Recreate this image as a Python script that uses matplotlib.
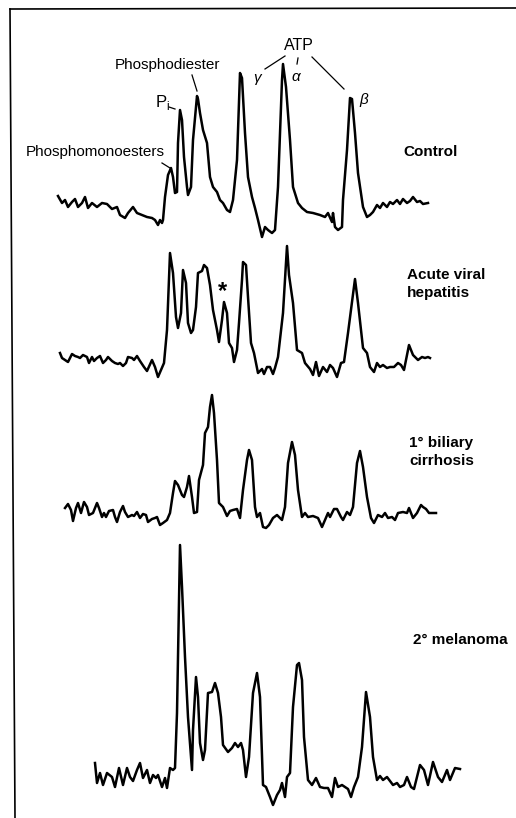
import matplotlib
matplotlib.use("Agg")
import matplotlib.pyplot as plt

plt.rcParams['font.family'] = ['Liberation Sans', 'DejaVu Sans']

# traces (x = shift position, y = trace height, page units)
control_x = [58, 62, 65, 68, 72, 75, 78, 82, 85, 88, 92, 97, 102, 107, 112, 117, 120, 125, 128, 133,
             137, 142, 147, 152, 155, 158, 160, 162, 163, 165, 168, 171, 173, 175, 177, 178, 180, 182, 184, 187,
             188, 191, 193, 197, 198, 200, 203, 207, 210, 213, 217, 220, 223, 227, 230, 233, 237, 240, 242, 245,
             248, 252, 255, 258, 262, 265, 268, 272, 275, 278, 282, 283, 286, 290, 293, 298, 302, 307, 313, 320,
             325, 328, 332, 333, 335, 338, 342, 343, 347, 350, 352, 355, 358, 363, 367, 370, 373, 377, 380, 383,
             387, 390, 393, 397, 400, 403, 407, 410, 413, 417, 420, 423, 428]
control_y = [196, 203, 200, 207, 202, 199, 207, 203, 197, 208, 203, 207, 203, 204, 209, 207, 215, 218, 213, 207,
             213, 215, 217, 218, 220, 225, 220, 223, 220, 197, 175, 168, 177, 193, 192, 143, 110, 120, 157, 187,
             195, 187, 140, 96, 99, 113, 130, 143, 177, 187, 192, 200, 203, 210, 212, 200, 160, 73, 78, 133,
             177, 197, 208, 220, 237, 227, 230, 233, 230, 187, 80, 64, 87, 140, 187, 203, 208, 212, 213, 215,
             217, 213, 222, 213, 227, 230, 227, 200, 150, 98, 99, 133, 173, 207, 217, 215, 212, 205, 208, 203,
             207, 202, 204, 200, 204, 199, 203, 201, 197, 202, 201, 204, 203]

hepatitis_x = [60, 62, 65, 68, 72, 75, 78, 80, 83, 87, 89, 92, 94, 97, 100, 103, 106, 108, 112, 115,
               118, 120, 123, 126, 128, 132, 134, 137, 140, 144, 147, 152, 155, 158, 161, 164, 167, 170, 173, 176,
               178, 181, 183, 186, 188, 191, 193, 196, 198, 202, 204, 207, 210, 213, 217, 219, 222, 224, 227, 229,
               232, 234, 237, 239, 242, 243, 246, 248, 251, 254, 258, 262, 264, 267, 270, 273, 275, 278, 283, 287,
               289, 293, 297, 302, 305, 310, 313, 316, 319, 323, 327, 330, 333, 337, 341, 344, 348, 352, 355, 358,
               363, 367, 370, 374, 377, 380, 383, 387, 390, 394, 398, 401, 404, 407, 409, 413, 416, 418, 422, 425,
               428, 430]
hepatitis_y = [353, 358, 360, 362, 354, 356, 357, 358, 355, 357, 363, 357, 361, 358, 356, 363, 360, 357, 361, 363,
               364, 363, 366, 363, 357, 358, 360, 356, 361, 367, 371, 360, 367, 377, 370, 363, 330, 253, 273, 317,
               328, 313, 270, 283, 323, 333, 330, 307, 273, 271, 265, 268, 285, 310, 330, 342, 320, 302, 313, 343,
               348, 362, 350, 323, 280, 262, 265, 297, 343, 353, 373, 369, 374, 367, 367, 374, 368, 357, 313, 246,
               275, 303, 350, 353, 363, 369, 375, 362, 376, 367, 372, 365, 368, 377, 363, 362, 333, 302, 279, 303,
               348, 353, 367, 372, 363, 367, 365, 368, 367, 367, 363, 365, 370, 355, 345, 355, 358, 360, 357, 358,
               357, 358]

cirrhosis_x = [65, 68, 71, 73, 76, 78, 81, 84, 87, 89, 93, 97, 99, 102, 104, 106, 109, 113, 115, 117,
               120, 123, 125, 128, 132, 134, 137, 140, 143, 146, 148, 152, 155, 157, 160, 163, 167, 170, 173, 175,
               178, 182, 184, 187, 189, 192, 194, 197, 199, 203, 205, 208, 210, 212, 214, 217, 219, 223, 227, 230,
               233, 237, 240, 243, 247, 249, 252, 255, 257, 260, 263, 266, 269, 273, 277, 282, 285, 288, 292, 295,
               298, 302, 305, 308, 313, 318, 322, 325, 328, 330, 334, 337, 341, 343, 347, 350, 353, 357, 360, 363,
               367, 371, 374, 378, 382, 385, 388, 392, 395, 398, 403, 407, 409, 413, 417, 421, 423, 426, 429, 433,
               436]
cirrhosis_y = [508, 504, 510, 521, 508, 503, 513, 502, 507, 515, 513, 503, 508, 517, 513, 517, 511, 510, 517, 522,
               512, 506, 512, 517, 515, 516, 512, 518, 514, 515, 522, 519, 518, 517, 525, 523, 520, 513, 493, 481,
               485, 495, 497, 487, 476, 497, 513, 512, 480, 465, 433, 427, 407, 395, 413, 460, 503, 507, 516, 511,
               510, 509, 518, 490, 460, 450, 460, 507, 517, 513, 527, 528, 525, 518, 515, 520, 507, 463, 442, 455,
               490, 517, 513, 517, 516, 518, 527, 520, 513, 517, 509, 509, 517, 520, 512, 515, 507, 463, 451, 467,
               497, 518, 523, 515, 517, 513, 518, 517, 520, 513, 512, 513, 508, 518, 513, 505, 507, 509, 513, 513,
               513]

melanoma_x = [95, 97, 100, 103, 107, 112, 115, 119, 123, 127, 130, 133, 137, 140, 143, 147, 150, 153, 156, 158,
              162, 165, 167, 170, 173, 175, 177, 180, 182, 185, 188, 192, 193, 196, 198, 200, 203, 205, 208, 212,
              215, 218, 221, 223, 228, 232, 235, 238, 241, 243, 246, 249, 253, 257, 260, 263, 266, 270, 273, 277,
              280, 282, 285, 287, 290, 293, 297, 299, 302, 304, 308, 312, 316, 320, 324, 328, 332, 335, 338, 342,
              345, 348, 351, 354, 358, 362, 366, 370, 373, 377, 380, 383, 387, 390, 393, 397, 400, 404, 407, 411,
              414, 420, 424, 428, 433, 438, 442, 447, 450, 455, 460]
melanoma_y = [763, 783, 773, 785, 773, 777, 787, 768, 785, 768, 777, 781, 770, 763, 778, 770, 783, 775, 778, 775,
              787, 778, 788, 768, 770, 768, 713, 545, 587, 657, 717, 770, 730, 677, 697, 743, 760, 750, 693, 692,
              683, 693, 717, 745, 752, 748, 743, 747, 743, 750, 777, 757, 693, 673, 697, 785, 787, 797, 805, 795,
              790, 783, 797, 777, 773, 707, 665, 663, 680, 737, 780, 785, 778, 787, 788, 788, 797, 778, 787, 785,
              787, 789, 797, 787, 777, 747, 692, 717, 757, 780, 776, 780, 777, 781, 785, 783, 787, 785, 777, 787,
              789, 765, 770, 785, 762, 777, 782, 770, 780, 768, 769]

traces = [(control_x, control_y), (hepatitis_x, hepatitis_y),
          (cirrhosis_x, cirrhosis_y), (melanoma_x, melanoma_y)]

sample_names = ['Control', 'Acute viral\nhepatitis', '1° biliary\ncirrhosis', '2° melanoma']
name_pos = [(403, 152), (407, 284), (409, 452), (413, 640)]

fig = plt.figure(figsize=(5.16, 8.18), dpi=100)
ax = fig.add_axes([0, 0, 1, 1])
ax.set_xlim(0, 516)
ax.set_ylim(818, 0)
ax.axis('off')

# frame (top and left edge of the plate)
ax.plot([10, 15], [9, 818], color='black', lw=1.2)
ax.plot([10, 516], [9, 8], color='black', lw=1.2)

for xs, ys in traces:
    ax.plot(xs, ys, color='black', lw=1.8, solid_joinstyle='round')

for name, (tx, ty) in zip(sample_names, name_pos):
    ax.text(tx, ty, name, fontsize=11, fontweight='bold', ha='left', va='center',
            linespacing=1.35)

# peak labels on the control spectrum
lab = dict(fontsize=11, color='black')
ax.text(168, 65, 'Phosphodiester', ha='center', va='center', **lab)
ax.plot([192, 197], [75, 91], color='black', lw=0.9)
ax.text(95, 152, 'Phosphomonoesters', ha='center', va='center', **lab)
ax.plot([162, 170], [163, 168], color='black', lw=0.9)
ax.text(163, 103, r'P$_{\mathregular{i}}$', ha='center', va='center', fontsize=12)
ax.plot([169, 175], [107, 109], color='black', lw=0.9)

ax.text(299, 46, 'ATP', ha='center', va='center', fontsize=11.5)
ax.plot([265, 285], [69, 56], color='black', lw=0.9)
ax.plot([298, 297], [58, 64], color='black', lw=0.9)
ax.plot([312, 344], [57, 89], color='black', lw=0.9)
ax.text(257, 78, 'γ', ha='center', va='center', fontsize=11, style='italic')
ax.text(296, 77, 'α', ha='center', va='center', fontsize=11, style='italic')
ax.text(364, 100, 'β', ha='center', va='center', fontsize=11, style='italic')

# unassigned peak in hepatitis
ax.text(223, 292, '*', ha='center', va='center', fontsize=17, fontweight='bold')

fig.savefig('out.png', dpi=100)
